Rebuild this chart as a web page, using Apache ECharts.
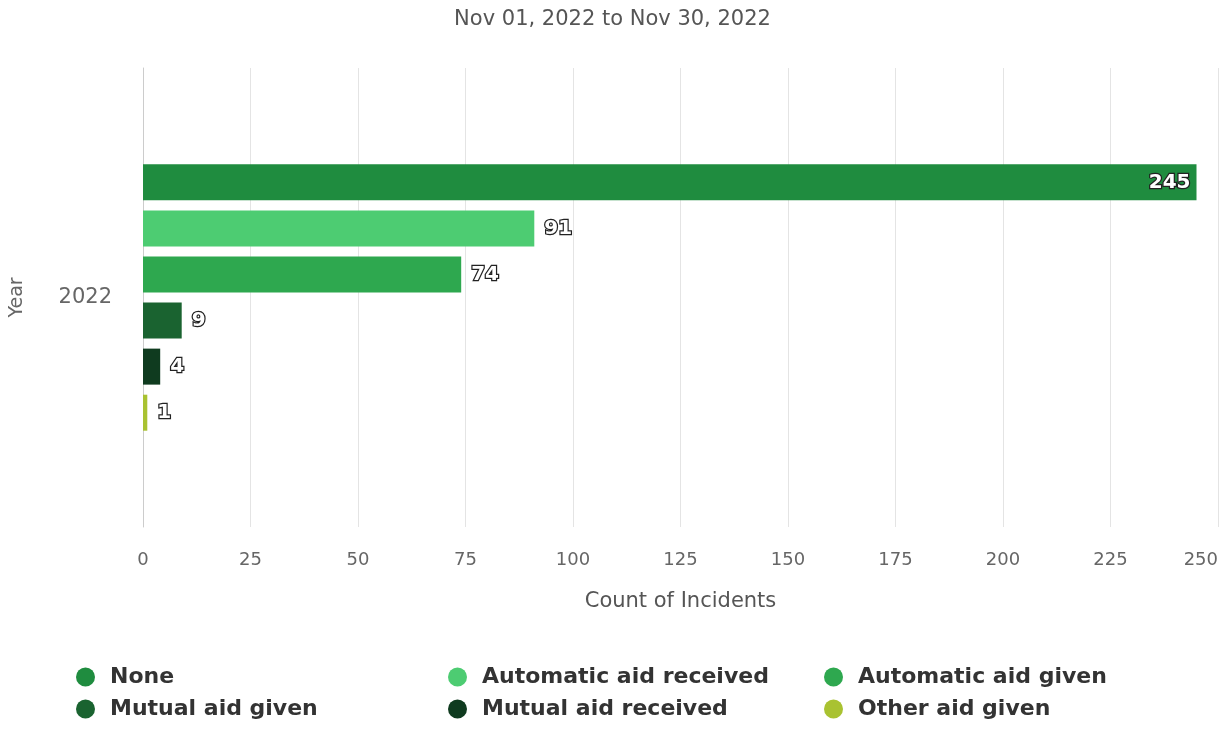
<!DOCTYPE html>
<html>
<head>
<meta charset="utf-8">
<script src="https://cdn.jsdelivr.net/npm/echarts@6/dist/echarts.min.js"></script>
<style>
html,body{margin:0;padding:0;background:#fff;}
#chart{width:1225px;height:740px;}
</style>
</head>
<body>
<div id="chart"></div>
<script>
const categories = ['2022'];
const seriesNames = ['None', 'Automatic aid received', 'Automatic aid given', 'Mutual aid given', 'Mutual aid received', 'Other aid given'];
const seriesValues = [[245], [91], [74], [9], [4], [1]];
const seriesColors = ['#1f8c3f', '#4dcc72', '#2ea84f', '#1a6330', '#0f3b1f', '#a9c231'];
const xTicks = [0, 25, 50, 75, 100, 125, 150, 175, 200, 225, 250];

const chart = echarts.init(document.getElementById('chart'));
const fontFam = '"DejaVu Sans", "Open Sans", sans-serif';

const series = seriesNames.map((name, i) => ({
  name: name,
  type: 'bar',
  data: seriesValues[i],
  barWidth: 36,
  barGap: '28%',
  itemStyle: { color: seriesColors[i] },
  label: {
    show: true,
    position: i === 0 ? 'insideRight' : 'right',
    distance: i === 0 ? 6 : 10,
    color: '#ffffff',
    fontFamily: fontFam,
    fontWeight: 'bold',
    fontSize: 20,
    textBorderColor: '#222',
    textBorderWidth: 2.5
  }
}));

const legendStyle = {
  orient: 'vertical',
  icon: 'circle',
  itemWidth: 19,
  itemHeight: 19,
  itemGap: 10,
  textStyle: { fontFamily: fontFam, fontWeight: 'bold', fontSize: 22, lineHeight: 22, color: '#333', padding: [0, 0, 0, 10] }
};

chart.setOption({
  animation: false,
  title: {
    text: 'Nov 01, 2022 to Nov 30, 2022',
    left: 'center',
    top: 4,
    textStyle: { fontFamily: fontFam, fontWeight: 'normal', fontSize: 21, color: '#555' }
  },
  legend: [
    Object.assign({ left: 71, top: 661, data: [seriesNames[0], seriesNames[3]] }, legendStyle),
    Object.assign({ left: 443, top: 661, data: [seriesNames[1], seriesNames[4]] }, legendStyle),
    Object.assign({ left: 819, top: 661, data: [seriesNames[2], seriesNames[5]] }, legendStyle)
  ],
  grid: { left: 143, right: 7, top: 68, bottom: 213, outerBoundsMode: 'none', containLabel: false },
  xAxis: {
    type: 'value',
    min: 0,
    max: 250,
    interval: 25,
    name: 'Count of Incidents',
    nameLocation: 'middle',
    nameGap: 64,
    nameTextStyle: { fontFamily: fontFam, fontSize: 21, color: '#555' },
    axisLine: { show: false },
    axisTick: { show: false },
    axisLabel: { fontFamily: fontFam, fontSize: 18, color: '#666', margin: 24, alignMaxLabel: 'right' },
    splitLine: { lineStyle: { color: '#e4e4e4', width: 1 } }
  },
  yAxis: {
    type: 'category',
    data: categories,
    inverse: true,
    name: 'Year',
    nameLocation: 'middle',
    nameGap: 116,
    nameTextStyle: { fontFamily: fontFam, fontSize: 19, color: '#666' },
    axisLine: { show: true, lineStyle: { color: '#ccc' } },
    axisTick: { show: false },
    axisLabel: { fontFamily: fontFam, fontSize: 21, color: '#666', margin: 31 }
  },
  series: series
});
</script>
</body>
</html>
